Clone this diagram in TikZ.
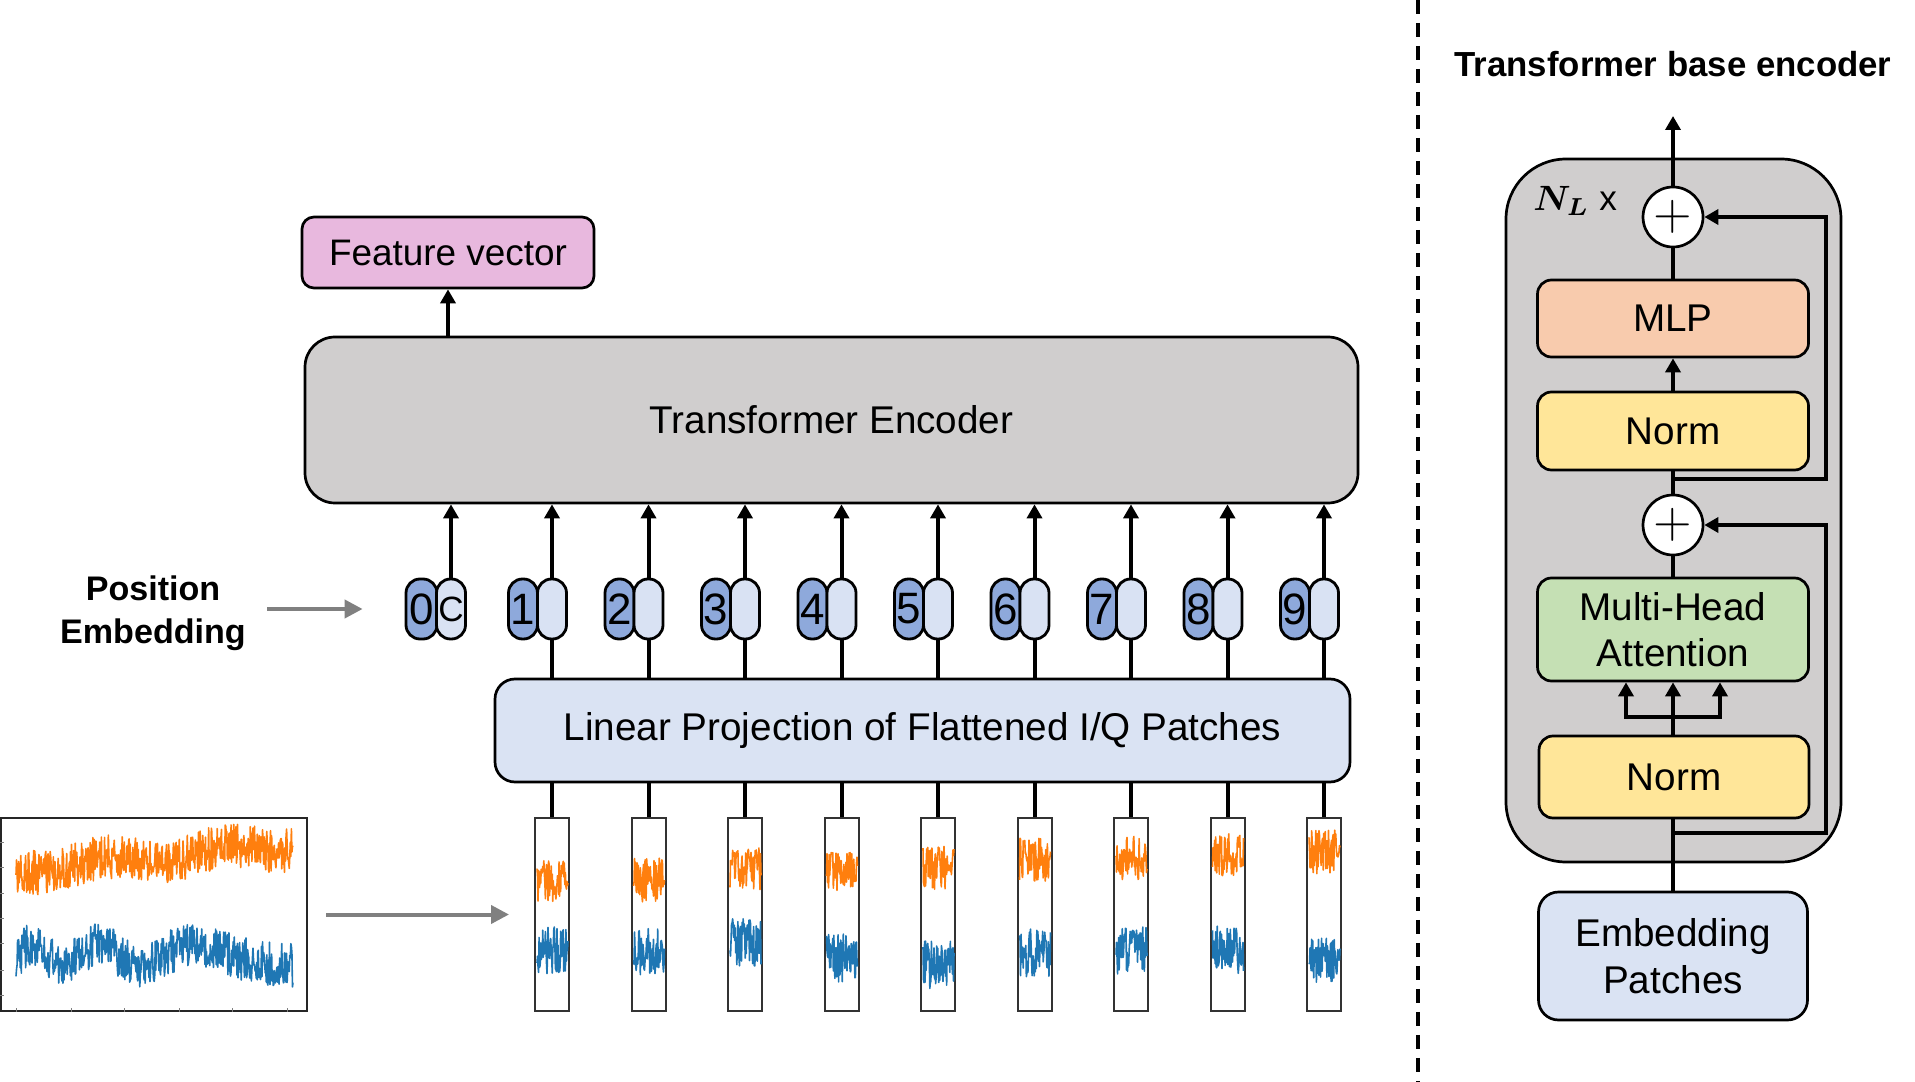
\documentclass[tikz,border=0pt]{standalone}
\usepackage{bm}
\usepackage{fontspec}
\setmainfont{Liberation Sans}
\usetikzlibrary{arrows.meta,calc}

\definecolor{encgray}{HTML}{D0CECE}
\definecolor{featpink}{HTML}{E8B8DE}
\definecolor{projblue}{HTML}{DAE3F3}
\definecolor{tokdark}{HTML}{8EA9DB}
\definecolor{toklight}{HTML}{D9E2F3}
\definecolor{mlporange}{HTML}{F8CBAD}
\definecolor{normyellow}{HTML}{FFE699}
\definecolor{mhagreen}{HTML}{C5E0B4}
\definecolor{sigorange}{HTML}{FF7F0E}
\definecolor{sigblue}{HTML}{1F77B4}

\tikzset{
  blk/.style={draw, line width=0.27mm, rounded corners=1.4mm, align=center, inner sep=0pt,
    font=\fontsize{11}{13.2}\selectfont},
  conn/.style={line width=0.4mm},
  arr/.style={conn, -{Triangle[length=1.4mm,width=1.5mm]}},
  grayarr/.style={line width=0.4mm, draw=gray, -{Triangle[length=1.8mm,width=1.8mm]}},
  tokid/.style={draw, line width=0.28mm, fill=tokdark, rounded corners=1.4mm, minimum width=2.9mm,
    minimum height=6mm, inner sep=0pt, font=\fontsize{12.5}{12.5}\selectfont},
  tokval/.style={tokid, fill=toklight},
  patchbox/.style={draw=black!80, line width=0.2mm, minimum width=3.4mm, minimum height=19.3mm, inner sep=0pt},
  addnode/.style={draw, circle, fill=white, line width=0.27mm, minimum size=6mm, inner sep=0pt,
    font=\fontsize{15}{15}\selectfont},
  sigO/.style={sigorange, line width=0.16mm, line join=round},
  sigB/.style={sigblue, line width=0.16mm, line join=round},
  divider/.style={line width=0.45mm, dash pattern=on 1.4mm off 0.9mm},
}

\begin{document}
\begin{tikzpicture}[x=0.1mm,y=-0.1mm]
    \useasboundingbox (0,0) rectangle (1915,1082);
    % main blocks of the left part
    \node[blk,fill=featpink,minimum width=29.2mm,minimum height=7.1mm,rounded corners=1.2mm,
        font=\fontsize{10.5}{12}\selectfont] (feat) at (448,252.5) {Feature vector};
    \node[blk,fill=encgray,minimum width=105.3mm,minimum height=16.6mm,rounded corners=3mm]
        (enc) at (831.5,420) {Transformer Encoder};
    \node[blk,fill=projblue,minimum width=85.5mm,minimum height=10.3mm,rounded corners=2mm]
        (proj) at (922.5,730.5) {Linear Projection of Flattened I/Q Patches};
    \draw[arr] (feat |- enc.north) -- (feat.south);
    % class token
    \node[tokid,minimum width=3.1mm] (id0) at (421.5,609) {0};
    \node[tokval,font=\fontsize{10}{10}\selectfont] (val0) at (451,609) {C};
    \draw[arr] (val0.north) -- (val0.north |- enc.south);
    % position embedding label
    \node[align=center,font=\bfseries\fontsize{9.7}{12.2}\selectfont] (posemb) at (153,613)
        {Position\\Embedding};
    \draw[grayarr] ($(posemb.east |- id0.west)+(9,0)$) -- ($(id0.west)+(-42,0)$);
    % raw I/Q signal
    \node[draw=black!85,line width=0.2mm,minimum width=30.6mm,minimum height=19.3mm,inner sep=0pt]
        (sig) at (154,914.5) {};
    \foreach \ty in {842,867,893,918,943,970,995} { \draw[gray,line width=0.1mm] (sig.west |- 0,\ty) -- ++(4,0); }
    \foreach \tx in {16,71,124,179,232,287} { \draw[gray,line width=0.1mm] (sig.south -| \tx,0) -- ++(0,-4); }
    \pgfmathsetseed{7}
    \draw[sigO] plot[domain=16:293,samples=520]
        (\x,{870-25*(\x-16)/277+5*sin(3*(\x-16))+22*rand});
    \draw[sigB] plot[domain=16:293,samples=520]
        (\x,{955-10*sin(-375+1784*((\x-16)/277)-779*((\x-16)/277)^2)+22*rand});
    % patch tokens, patches and their signal pieces
    \foreach \i/\oc/\bc in {1/882/950,2/880/952,3/868/942,4/873/958,5/868/965,
                            6/860/953,7/858/950,8/854/950,9/852/962} {
        \pgfmathsetmacro\px{552+(\i-1)*96.5}
        \pgfmathsetmacro\xa{\px-15}
        \pgfmathsetmacro\xb{\px+16}
        \node[tokid] (id\i) at (\px-29,609) {\i};
        \node[tokval] (val\i) at (\px,609) {};
        \draw[arr] (val\i.north) -- (val\i.north |- enc.south);
        \draw[conn] (val\i.south |- proj.north) -- (val\i.south);
        \node[patchbox] (patch\i) at (\px,914.5) {};
        \draw[conn] (patch\i.north) -- (patch\i.north |- proj.south);
        \draw[sigO] plot[domain=\xa:\xb,samples=60] (\x,{\oc+22*rand});
        \draw[sigB] plot[domain=\xa:\xb,samples=60] (\x,{\bc+24*rand});
    }
    \draw[grayarr] ($(sig.east)+(18,0)$) -- ($(patch1.west)+(-25,0)$);
    % separator
    \draw[divider] (1418,0) -- (1418,1082);
    % right part: one encoder layer
    \node[font=\bfseries\fontsize{9.9}{12}\selectfont] (title) at (1673,64) {Transformer base encoder};
    \node[blk,fill=encgray,minimum width=33.5mm,minimum height=70.3mm,rounded corners=6mm]
        (layer) at (1673.5,510.5) {};
    \node[anchor=west,font=\fontsize{10}{12}\selectfont] (nl) at (1521,201) {$\bm{N_L}$ x};
    \node[addnode] (plus2) at (1673,217) {$+$};
    \node[blk,fill=mlporange,minimum width=27.1mm,minimum height=7.7mm] (mlp) at (1673,318.5) {MLP};
    \node[blk,fill=normyellow,minimum width=27.1mm,minimum height=7.8mm] (norm2) at (1673,431) {Norm};
    \node[addnode] (plus1) at (1673,525) {$+$};
    \node[blk,fill=mhagreen,minimum width=27.1mm,minimum height=10.3mm] (mha) at (1673,629.5)
        {Multi-Head\\Attention};
    \node[blk,fill=normyellow,minimum width=27mm,minimum height=8.2mm] (norm1) at (1674,777) {Norm};
    \node[blk,fill=projblue,minimum width=26.9mm,minimum height=12.8mm,rounded corners=2mm]
        (emb) at (1673,956) {Embedding\\Patches};
    \draw[conn] (emb.north) -- (norm1.south -| emb.north);
    \draw[conn] (norm1.north -| mha.south) -- ++(0,-18) coordinate (split);
    \draw[arr] (split) -- (mha.south);
    \draw[arr] (split) -| ($(mha.south)+(-47,0)$);
    \draw[arr] (split) -| ($(mha.south)+(47,0)$);
    \draw[conn] (mha.north) -- (plus1.south);
    \draw[conn] (plus1.north) -- (norm2.south);
    \draw[arr] (norm2.north) -- (mlp.south);
    \draw[conn] (mlp.north) -- (plus2.south);
    \coordinate (out) at (1673,116);
    \draw[arr] (plus2.north) -- (out);
    % residual paths
    \coordinate (res1) at (1673,833);
    \coordinate (res2) at (1673,479);
    \draw[arr] (res1) -- ++(153,0) |- (plus1.east);
    \draw[arr] (res2) -- ++(153,0) |- (plus2.east);
\end{tikzpicture}
\end{document}
